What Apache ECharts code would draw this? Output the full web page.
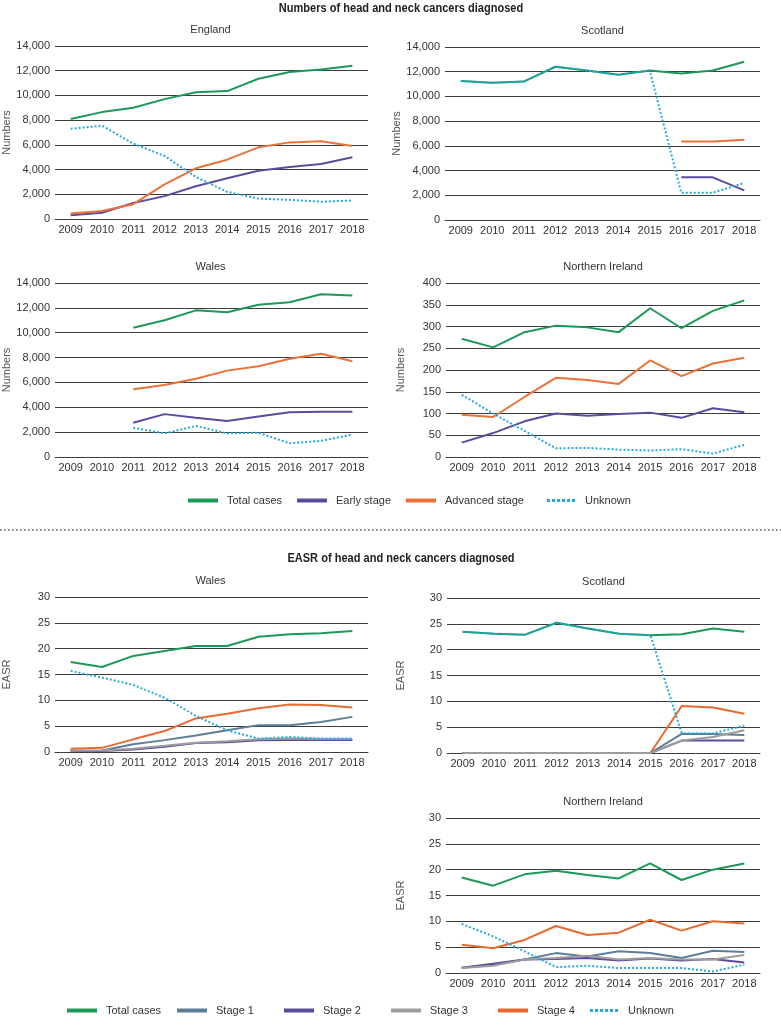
<!DOCTYPE html>
<html><head><meta charset="utf-8">
<script src="https://cdn.jsdelivr.net/npm/echarts@6/dist/echarts.min.js"></script>
<style>html,body{margin:0;padding:0;background:#fff}#c{width:781px;height:1023px}</style>
</head><body><div id="c"></div>
<script>
const years = ['2009','2010','2011','2012','2013','2014','2015','2016','2017','2018'];
const numberTicks = [0,2000,4000,6000,8000,10000,12000,14000];
const niTicks = [0,50,100,150,200,250,300,350,400];
const easrTicks = [0,5,10,15,20,25,30];

// Numbers - England
const engTotal    = [8100,8650,9000,9700,10250,10350,11350,11900,12100,12400];
const engEarly    = [300,500,1300,1850,2650,3300,3900,4200,4450,5000];
const engAdvanced = [450,650,1200,2800,4100,4800,5800,6200,6300,5900];
const engUnknown  = [7300,7550,6100,5100,3400,2200,1650,1550,1400,1500];
// Numbers - Scotland
const scoTotal    = [11250,11100,11200,12400,12100,11750,12100,11850,12100,12800];
const scoEarly    = [null,null,null,null,null,null,null,3450,3450,2400];
const scoAdvanced = [null,null,null,null,null,null,null,6350,6350,6500];
const scoUnknown  = [11250,11100,11200,12400,12100,11750,12100,2200,2200,3000];
// Numbers - Wales
const walTotal    = [null,null,10400,11000,11800,11650,12250,12450,13100,13000];
const walEarly    = [null,null,2750,3450,3150,2900,3250,3600,3650,3650];
const walAdvanced = [null,null,5450,5800,6300,6950,7300,7900,8300,7700];
const walUnknown  = [null,null,2350,1900,2500,1900,1950,1100,1300,1800];
// Numbers - Northern Ireland
const niTotal    = [272,252,287,302,298,287,342,296,336,360];
const niEarly    = [33,55,82,100,95,99,102,90,112,103];
const niAdvanced = [97,92,138,182,177,168,222,186,215,228];
const niUnknown  = [143,100,60,20,21,17,15,18,8,28];

// EASR - Wales
const ewTotal   = [17.4,16.45,18.6,19.55,20.5,20.5,22.3,22.8,23.0,23.4];
const ewStage1  = [0.26,0.3,1.5,2.3,3.2,4.2,5.2,5.2,5.8,6.8];
const ewStage2  = [0.2,0.2,0.5,1.0,1.75,1.9,2.25,2.3,2.3,2.3];
const ewStage3  = [0.25,0.3,0.65,1.2,1.8,2.1,2.45,2.6,2.5,2.5];
const ewStage4  = [0.65,0.8,2.45,4.05,6.5,7.4,8.45,9.2,9.1,8.6];
const ewUnknown = [15.7,14.4,13.0,10.5,7.0,4.2,2.6,2.9,2.6,2.6];
// EASR - Scotland
const esTotal   = [23.45,23.1,22.9,25.2,24.1,23.1,22.8,23.0,24.1,23.45];
const esStage1  = [0,0,0,0,0,0,0,3.7,3.7,3.5];
const esStage2  = [0,0,0,0,0,0,0,2.4,2.4,2.4];
const esStage3  = [0,0,0,0,0,0,0,2.4,3.1,4.4];
const esStage4  = [0,0,0,0,0,0,0,9.1,8.8,7.6];
const esUnknown = [23.45,23.1,22.9,25.2,24.1,23.1,22.8,3.8,3.8,5.3];
// EASR - Northern Ireland
const enTotal   = [18.5,16.9,19.1,19.8,18.95,18.3,21.2,18.0,20.0,21.2];
const enStage1  = [0.95,1.6,2.6,3.85,3.2,4.2,3.85,2.9,4.3,4.05];
const enStage2  = [1.0,1.8,2.6,2.7,2.9,2.4,2.8,2.4,2.7,2.05];
const enStage3  = [0.95,1.4,2.6,2.9,3.35,2.6,2.9,2.6,2.6,3.5];
const enStage4  = [5.46,4.8,6.4,9.1,7.35,7.8,10.3,8.2,10.0,9.6];
const enUnknown = [9.5,7.1,4.2,1.15,1.4,0.95,0.95,0.95,0.3,1.6];

const numLegend  = ['Total cases','Early stage','Advanced stage','Unknown'];
const easrLegend = ['Total cases','Stage 1','Stage 2','Stage 3','Stage 4','Unknown'];

const FONT = "'Liberation Sans',Arial,sans-serif";
const TXT = '#333';
const colors = {
  'Total cases':'#1b9a57','Early stage':'#5b4b9d','Advanced stage':'#ea7238','Unknown':'#27a8dc',
  'Stage 1':'#5d7e97','Stage 2':'#5b4b9d','Stage 3':'#9c9c9c','Stage 4':'#e96a2e'
};

const panels = [
  {title:'England', grid:{left:53,top:46,width:315,height:173}, ticks:numberTicks, name:'Numbers', gap:43,
   series:[['Total cases',engTotal],['Early stage',engEarly],['Advanced stage',engAdvanced],['Unknown',engUnknown]]},
  {title:'Scotland', grid:{left:445,top:47,width:315,height:173}, ticks:numberTicks, name:'Numbers', gap:38,
   series:[['Total cases',scoTotal],['Early stage',scoEarly],['Advanced stage',scoAdvanced],['Unknown',scoUnknown]]},
  {title:'Wales', grid:{left:53,top:283,width:315,height:174}, ticks:numberTicks, name:'Numbers', gap:43,
   series:[['Total cases',walTotal],['Early stage',walEarly],['Advanced stage',walAdvanced],['Unknown',walUnknown]]},
  {title:'Northern Ireland', grid:{left:446,top:283,width:314,height:174}, ticks:niTicks, name:'Numbers', gap:40,
   series:[['Total cases',niTotal],['Early stage',niEarly],['Advanced stage',niAdvanced],['Unknown',niUnknown]]},
  {title:'Wales', grid:{left:53,top:597,width:315,height:155}, ticks:easrTicks, name:'EASR', gap:43,
   series:[['Total cases',ewTotal],['Stage 1',ewStage1],['Stage 2',ewStage2],['Stage 3',ewStage3],['Stage 4',ewStage4],['Unknown',ewUnknown]]},
  {title:'Scotland', grid:{left:447,top:598,width:313,height:155}, ticks:easrTicks, name:'EASR', gap:41,
   series:[['Total cases',esTotal],['Stage 4',esStage4],['Stage 1',esStage1],['Stage 2',esStage2],['Stage 3',esStage3],['Unknown',esUnknown]]},
  {title:'Northern Ireland', grid:{left:446,top:818,width:314,height:155}, ticks:easrTicks, name:'EASR', gap:40,
   series:[['Total cases',enTotal],['Stage 1',enStage1],['Stage 2',enStage2],['Stage 3',enStage3],['Stage 4',enStage4],['Unknown',enUnknown]]}
];

const fmt = v => String(v).replace(/\B(?=(\d{3})+(?!\d))/g, ',');

const grids = [], xAxes = [], yAxes = [], series = [], graphics = [];
panels.forEach((p, i) => {
  grids.push(p.grid);
  xAxes.push({type:'category', gridIndex:i, data:years, boundaryGap:true,
    axisLine:{lineStyle:{color:'#3d3d3d', width:1}}, axisTick:{show:false},
    axisLabel:{interval:0, fontSize:11, color:TXT, margin:5, fontFamily:FONT}});
  const t = p.ticks;
  yAxes.push({type:'value', gridIndex:i, min:t[0], max:t[t.length-1], interval:t[1]-t[0],
    axisLine:{show:false}, axisTick:{show:false},
    splitLine:{lineStyle:{color:'#3d3d3d', width:1}},
    axisLabel:{fontSize:11, color:TXT, margin:5, fontFamily:FONT, formatter:fmt},
    name:p.name, nameLocation:'middle', nameGap:p.gap,
    nameTextStyle:{fontSize:11, color:'#555', fontFamily:FONT}});
  p.series.forEach(([nm, data]) => {
    const dotted = nm === 'Unknown';
    series.push({type:'line', name:nm, xAxisIndex:i, yAxisIndex:i, data:data,
      symbol:'none', connectNulls:false, silent:true,
      color:colors[nm],
      lineStyle:{color:colors[nm], width:2, type: dotted ? [2,2] : 'solid', cap:'butt'}});
  });
  graphics.push({type:'text', x:p.grid.left + p.grid.width/2, y:p.grid.top - 16,
    style:{text:p.title, fontSize:11, fontFamily:FONT, fill:TXT, align:'center', verticalAlign:'middle'}});
});

graphics.push({type:'text', x:401, y:8, scaleX:0.85, style:{text:'Numbers of head and neck cancers diagnosed',
  fontSize:13, fontWeight:'bold', fontFamily:FONT, fill:'#222', align:'center', verticalAlign:'middle'}});
graphics.push({type:'text', x:401, y:558, scaleX:0.85, style:{text:'EASR of head and neck cancers diagnosed',
  fontSize:13, fontWeight:'bold', fontFamily:FONT, fill:'#222', align:'center', verticalAlign:'middle'}});
graphics.push({type:'line', shape:{x1:0, y1:530, x2:781, y2:530},
  style:{stroke:'#555', lineWidth:1.5, lineDash:[1.5,2.5]}});

const dotIcon = 'path://M0,0h3v3h-3z M5,0h3v3h-3z M10,0h3v3h-3z M15,0h3v3h-3z M20,0h3v3h-3z M25,0h3v3h-3z';
const numLegendLeft  = [188, 297, 406, 547];
const easrLegendLeft = [67, 177, 284, 391, 498, 590];
const legends = [];
function addLegend(nm, left, top, w) {
  const dotted = nm === 'Unknown';
  legends.push({data:[{name:nm, icon: dotted ? dotIcon : 'rect'}], left:left, top:top,
    itemWidth: w, itemHeight: dotted ? 3 : 4, selectedMode:false, padding:0,
    textStyle:{fontSize:11, color:TXT, fontFamily:FONT, padding:[0,0,0,4]}});
}
numLegend.forEach((nm, k) => addLegend(nm, numLegendLeft[k], 495, 30));
easrLegend.forEach((nm, k) => addLegend(nm, easrLegendLeft[k], 1005, 30));

const chart = echarts.init(document.getElementById('c'), null, {renderer:'canvas'});
chart.setOption({
  animation:false,
  backgroundColor:'#fff',
  textStyle:{fontFamily:FONT},
  grid:grids, xAxis:xAxes, yAxis:yAxes, series:series,
  legend:legends, graphic:graphics
});
</script></body></html>
